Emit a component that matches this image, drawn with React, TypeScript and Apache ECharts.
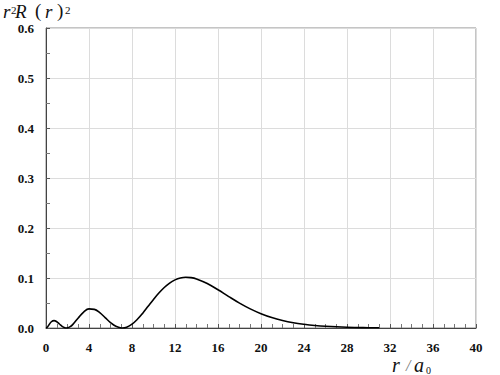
import React, { useEffect, useRef } from "react";
import * as echarts from "echarts";

const rValues = [0, 0.1, 0.25, 0.5, 0.75, 1, 1.25, 1.5, 1.75, 1.902, 2, 2.25, 2.5, 3, 3.5, 4, 4.5, 5, 5.5, 6, 6.5, 7, 7.098, 7.5, 8, 8.5, 9, 9.5, 10, 10.5, 11, 11.5, 12, 12.5, 13, 13.5, 14, 15, 16, 17, 18, 19, 20, 21, 22, 23, 24, 25, 26, 28, 30, 31];
const densityValues = [0, 0.0012, 0.0055, 0.0125, 0.0148, 0.0126, 0.008, 0.0034, 0.0005, 0, 0.0002, 0.0026, 0.0073, 0.0201, 0.0319, 0.0382, 0.0373, 0.0306, 0.0208, 0.0109, 0.0034, 0.0001, 0, 0.0016, 0.0076, 0.0174, 0.0297, 0.0434, 0.0571, 0.0699, 0.081, 0.0899, 0.0962, 0.1001, 0.1015, 0.1008, 0.0982, 0.089, 0.0764, 0.0628, 0.0498, 0.0383, 0.0287, 0.021, 0.0151, 0.0106, 0.0074, 0.005, 0.0034, 0.0015, 0.0006, 0.0004];

const xTicks = [0, 4, 8, 12, 16, 20, 24, 28, 32, 36, 40];
const yTicks = [0, 0.1, 0.2, 0.3, 0.4, 0.5, 0.6];

export default function App() {
  const ref = useRef<HTMLDivElement>(null);
  useEffect(() => {
    if (!ref.current) return;
    const chart = echarts.init(ref.current, null, { renderer: "svg" });
    const serif = "Liberation Serif";
    const data = rValues.map((r, i) => [r, densityValues[i]]);
    const txt = (left: number, top: number, text: string, fontSize: number, italic: boolean, fill = "#111") => ({
      type: "text",
      left,
      top,
      style: { text, fontFamily: serif, fontStyle: italic ? "italic" : "normal", fontSize, fill },
    });
    chart.setOption({
      animation: false,
      backgroundColor: "#ffffff",
      grid: { left: 46, right: 24, top: 28, bottom: 47, show: true, borderColor: "#8a8a8a", borderWidth: 1 },
      xAxis: {
        type: "value",
        min: xTicks[0],
        max: xTicks[xTicks.length - 1],
        interval: 4,
        axisLine: { show: true, onZero: false, lineStyle: { color: "#444", width: 1 } },
        axisTick: { show: true, inside: true, length: 4, lineStyle: { color: "#555" } },
        minorTick: { show: true, splitNumber: 4, length: 4, lineStyle: { color: "#777" } },
        splitLine: { show: true, lineStyle: { color: "#dcdcdc", width: 1 } },
        axisLabel: {
          margin: 13,
          fontFamily: serif,
          fontWeight: "bold",
          fontSize: 13,
          color: "#111",
          formatter: (v: number) => String(v),
        },
      },
      yAxis: {
        type: "value",
        min: yTicks[0],
        max: yTicks[yTicks.length - 1],
        interval: 0.1,
        axisLine: { show: true, lineStyle: { color: "#444", width: 1 } },
        axisTick: { show: true, inside: true, length: 4, lineStyle: { color: "#555" } },
        minorTick: { show: true, splitNumber: 2, length: 4, lineStyle: { color: "#777" } },
        splitLine: { show: true, lineStyle: { color: "#dcdcdc", width: 1 } },
        axisLabel: {
          margin: 12,
          fontFamily: serif,
          fontWeight: "bold",
          fontSize: 13,
          color: "#111",
          formatter: (v: number) => v.toFixed(1),
        },
      },
      series: [
        {
          type: "line",
          data,
          showSymbol: false,
          smooth: 0.4,
          lineStyle: { color: "#000", width: 1.6 },
          z: 3,
        },
      ],
      graphic: [
        txt(3, 2, "r", 19, true),
        txt(11, 4, "2", 11, false),
        txt(15, 2, "R", 19, true),
        txt(35, 1, "(", 19, false),
        txt(45, 2, "r", 19, true),
        txt(57, 1, ")", 19, false),
        txt(65, 4, "2", 11, false),
        txt(392, 355, "r", 20, true),
        txt(406, 357, "/", 16, true, "#777"),
        txt(414, 355, "a", 20, true),
        txt(426, 365, "0", 10, false),
      ],
    });
    return () => chart.dispose();
  }, []);
  return <div ref={ref} style={{ width: 500, height: 375, position: "absolute", left: 0, top: 0 }} />;
}
